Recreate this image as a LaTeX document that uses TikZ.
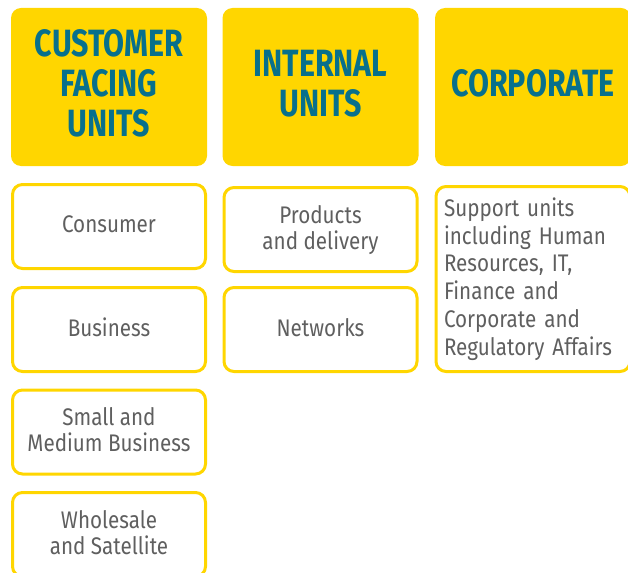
\documentclass[tikz,border=0pt]{standalone}
\usepackage{fontspec}
\setmainfont{Fira Sans}[FakeStretch=0.86]
\newfontfamily\headfont{Fira Sans}[FakeStretch=0.8]
\definecolor{unityellow}{RGB}{255,214,0}
\definecolor{unitteal}{RGB}{8,112,140}
\definecolor{unitgray}{RGB}{95,95,95}
\tikzset{
  headbox/.style={fill=unityellow, rounded corners=10pt, minimum width=196pt,
    minimum height=158pt, align=center, text=unitteal, text depth=8pt,
    font=\headfont\bfseries\fontsize{38}{40}\selectfont},
  framebox/.style={draw=unityellow, line width=3pt, fill=white, rounded corners=10pt,
    minimum width=193pt, text=unitgray},
  unitbox/.style={framebox, minimum height=84pt, align=center,
    text depth=5pt, font=\fontsize{24}{26}\selectfont},
  supportbox/.style={framebox, minimum height=185pt, align=left, text width=178pt,
    inner xsep=8pt, font=\fontsize{24}{27.7}\selectfont},
}
\begin{document}
\begin{tikzpicture}[x=1pt,y=-1pt]
\useasboundingbox (0,0) rectangle (628,572);
\clip (0,0) rectangle (628,572);
% headings
\node[headbox] (cfu) at (109,87) {CUSTOMER\\FACING\\UNITS};
\node[headbox] (iu) at (320.5,87) {INTERNAL\\UNITS};
\node[headbox] (corp) at (533,87) {CORPORATE};
% customer facing units
\node[unitbox] (consumer) at (109,226.5) {Consumer};
\node[unitbox] (business) at (109,329.5) {Business};
\node[unitbox] (smb) at (109,432) {Small and\\Medium Business};
\node[unitbox] (wholesale) at (109,534.5) {Wholesale\\and Satellite};
% internal units
\node[unitbox] (products) at (320.5,229.5) {Products\\and delivery};
\node[unitbox] (networks) at (320.5,329.5) {Networks};
% corporate
\node[supportbox] (support) at (533,279)
  {Support units\\including Human\\Resources, IT,\\Finance and\\Corporate and\\Regulatory Affairs};
\end{tikzpicture}
\end{document}
